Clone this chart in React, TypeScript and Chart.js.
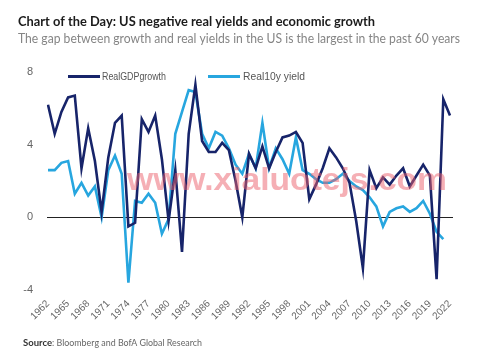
import React, { useEffect, useRef } from 'react';
import { Chart, registerables } from 'chart.js';

Chart.register(...registerables);

const TITLE = 'Chart of the Day: US negative real yields and economic growth';
const SUBTITLE = 'The gap between growth and real yields in the US is the largest in the past 60 years';
const SOURCE_BOLD = 'Source';
const SOURCE_REST = ': Bloomberg and BofA Global Research';
const WATERMARK = 'www.xialuotejs.com';
const SERIES_NAMES = ['RealGDPgrowth', 'Real10y yield'];

const years = [
  '1962', '1963', '1964', '1965', '1966', '1967', '1968', '1969', '1970', '1971',
  '1972', '1973', '1974', '1975', '1976', '1977', '1978', '1979', '1980', '1981',
  '1982', '1983', '1984', '1985', '1986', '1987', '1988', '1989', '1990', '1991',
  '1992', '1993', '1994', '1995', '1996', '1997', '1998', '1999', '2000', '2001',
  '2002', '2003', '2004', '2005', '2006', '2007', '2008', '2009', '2010', '2011',
  '2012', '2013', '2014', '2015', '2016', '2017', '2018', '2019', '2020', '2021',
  '2022',
];

const gdpGrowth = [
  6.2, 4.6, 5.8, 6.6, 6.7, 2.7, 4.9, 3.1, 0.3, 3.3,
  5.2, 5.6, -0.5, -0.3, 5.4, 4.7, 5.6, 3.2, -0.2, 2.6,
  -1.9, 4.6, 7.3, 4.2, 3.6, 3.6, 4.1, 3.7, 2.0, 0.0,
  3.5, 2.7, 3.9, 2.7, 3.6, 4.4, 4.5, 4.7, 4.1, 1.0,
  1.8, 2.7, 3.8, 3.3, 2.7, 1.9, -0.2, -2.8, 2.6, 1.6,
  2.2, 1.8, 2.3, 2.7, 1.7, 2.3, 2.9, 2.3, -3.4, 6.5,
  5.6,
];

const real10y = [
  2.6, 2.6, 3.0, 3.1, 1.3, 1.9, 1.2, 1.7, 0.0, 2.6,
  3.4, 2.4, -3.6, 0.9, 0.8, 1.3, 0.8, -0.9, -0.1, 4.6,
  5.8, 7.0, 6.9, 4.6, 3.8, 4.7, 4.5, 3.8, 2.9, 2.4,
  3.5, 2.7, 5.2, 2.7, 3.8, 3.2, 2.4, 4.4, 2.6, 2.4,
  2.1, 1.9, 1.9, 2.1, 2.4, 2.0, 1.7, 1.5, 1.1, 0.6,
  -0.5, 0.3, 0.5, 0.6, 0.3, 0.5, 0.9, 0.2, -0.8, -1.2,
  null,
];

const xTickLabels = [
  '1962', '1965', '1968', '1971', '1974', '1977', '1980', '1983', '1986', '1989',
  '1992', '1995', '1998', '2001', '2004', '2007', '2010', '2013', '2016', '2019', '2022',
];

const yTicks = [-4, 0, 4, 8];

const DARK = '#17246a';
const LIGHT = '#27a6df';

function fitText(ctx: CanvasRenderingContext2D, text: string, x: number, y: number, width: number) {
  const w = ctx.measureText(text).width;
  ctx.save();
  ctx.translate(x, y);
  ctx.scale(width / w, 1);
  ctx.fillText(text, 0, 0);
  ctx.restore();
}

const overlayPlugin = {
  id: 'overlay',
  beforeDatasetsDraw(chart: any) {
    const { ctx, chartArea, scales } = chart;
    const y0 = Math.round(scales.y.getPixelForValue(0)) + 0.5;
    ctx.save();
    ctx.strokeStyle = '#222';
    ctx.lineWidth = 1;
    ctx.beginPath();
    ctx.moveTo(chartArea.left - 1, y0);
    ctx.lineTo(chartArea.right + 3, y0);
    ctx.stroke();
    ctx.restore();
  },
  afterDatasetsDraw(chart: any) {
    const { ctx } = chart;
    ctx.save();
    ctx.textBaseline = 'alphabetic';
    ctx.textAlign = 'left';
    // watermark
    ctx.fillStyle = 'rgba(236, 96, 108, 0.5)';
    ctx.font = 'bold 32px "Liberation Sans", Arial, sans-serif';
    fitText(ctx, WATERMARK, 127, 190, 320);
    ctx.restore();
  },
  afterDraw(chart: any) {
    const { ctx } = chart;
    ctx.save();
    ctx.textBaseline = 'alphabetic';
    ctx.textAlign = 'left';
    // title
    ctx.fillStyle = '#1b1b1b';
    ctx.font = 'bold 14px Lato, "Open Sans", sans-serif';
    fitText(ctx, TITLE, 18, 26, 357);
    ctx.fillStyle = '#858585';
    ctx.font = '14px Lato, "Open Sans", sans-serif';
    fitText(ctx, SUBTITLE, 18, 43, 442);
    // legend
    ctx.lineWidth = 3;
    ctx.strokeStyle = DARK;
    ctx.beginPath();
    ctx.moveTo(68, 76.5);
    ctx.lineTo(100, 76.5);
    ctx.stroke();
    ctx.strokeStyle = LIGHT;
    ctx.beginPath();
    ctx.moveTo(208, 76.5);
    ctx.lineTo(240, 76.5);
    ctx.stroke();
    ctx.fillStyle = '#555';
    ctx.font = '11px "Liberation Sans", Arial, sans-serif';
    fitText(ctx, SERIES_NAMES[0], 102, 80, 64);
    fitText(ctx, SERIES_NAMES[1], 243, 80, 62);
    // source
    ctx.fillStyle = '#333';
    ctx.font = 'bold 10px Lato, "Open Sans", sans-serif';
    fitText(ctx, SOURCE_BOLD, 23, 346, 29);
    ctx.fillStyle = '#666';
    ctx.font = '10px Lato, "Open Sans", sans-serif';
    fitText(ctx, SOURCE_REST, 52, 346, 150);
    ctx.restore();
  },
};

export default function App() {
  const canvasRef = useRef<HTMLCanvasElement | null>(null);

  useEffect(() => {
    if (!canvasRef.current) return;
    const chart = new Chart(canvasRef.current, {
      type: 'line',
      data: {
        labels: years,
        datasets: [
          {
            label: SERIES_NAMES[0],
            data: gdpGrowth,
            borderColor: DARK,
            backgroundColor: DARK,
            borderWidth: 2.6,
            pointRadius: 0,
            tension: 0,
          },
          {
            label: SERIES_NAMES[1],
            data: real10y,
            borderColor: LIGHT,
            backgroundColor: LIGHT,
            borderWidth: 2.6,
            pointRadius: 0,
            tension: 0,
          },
        ],
      },
      options: {
        responsive: false,
        animation: false,
        devicePixelRatio: 1,
        layout: { padding: { top: 72, right: 50, bottom: 23, left: 0 } },
        plugins: {
          legend: { display: false },
          title: { display: false },
          tooltip: { enabled: false },
        },
        scales: {
          x: {
            type: 'category',
            grid: { display: false, drawTicks: false },
            border: { display: false },
            afterFit: (scale: any) => {
              scale.height = 40;
            },
            ticks: {
              autoSkip: false,
              minRotation: 45,
              maxRotation: 45,
              padding: 8,
              color: '#666',
              font: { family: '"Liberation Sans", Arial, sans-serif', size: 10 },
              callback: (_v: any, i: number) => (xTickLabels.includes(years[i]) ? years[i] : null),
            },
          },
          y: {
            min: -4,
            max: 8,
            afterBuildTicks: (scale: any) => {
              scale.ticks = yTicks.map((v) => ({ value: v }));
            },
            afterFit: (scale: any) => {
              scale.width = 48;
            },
            grid: { display: false, drawTicks: false },
            border: { display: false },
            ticks: {
              padding: 15,
              color: '#666',
              font: { family: '"Liberation Sans", Arial, sans-serif', size: 11 },
            },
          },
        },
      },
      plugins: [overlayPlugin],
    });
    return () => chart.destroy();
  }, []);

  return (
    <div style={{ position: 'fixed', left: 0, top: 0, width: 500, height: 353, background: '#fff' }}>
      <canvas ref={canvasRef} width={500} height={353} style={{ display: 'block' }} />
    </div>
  );
}
